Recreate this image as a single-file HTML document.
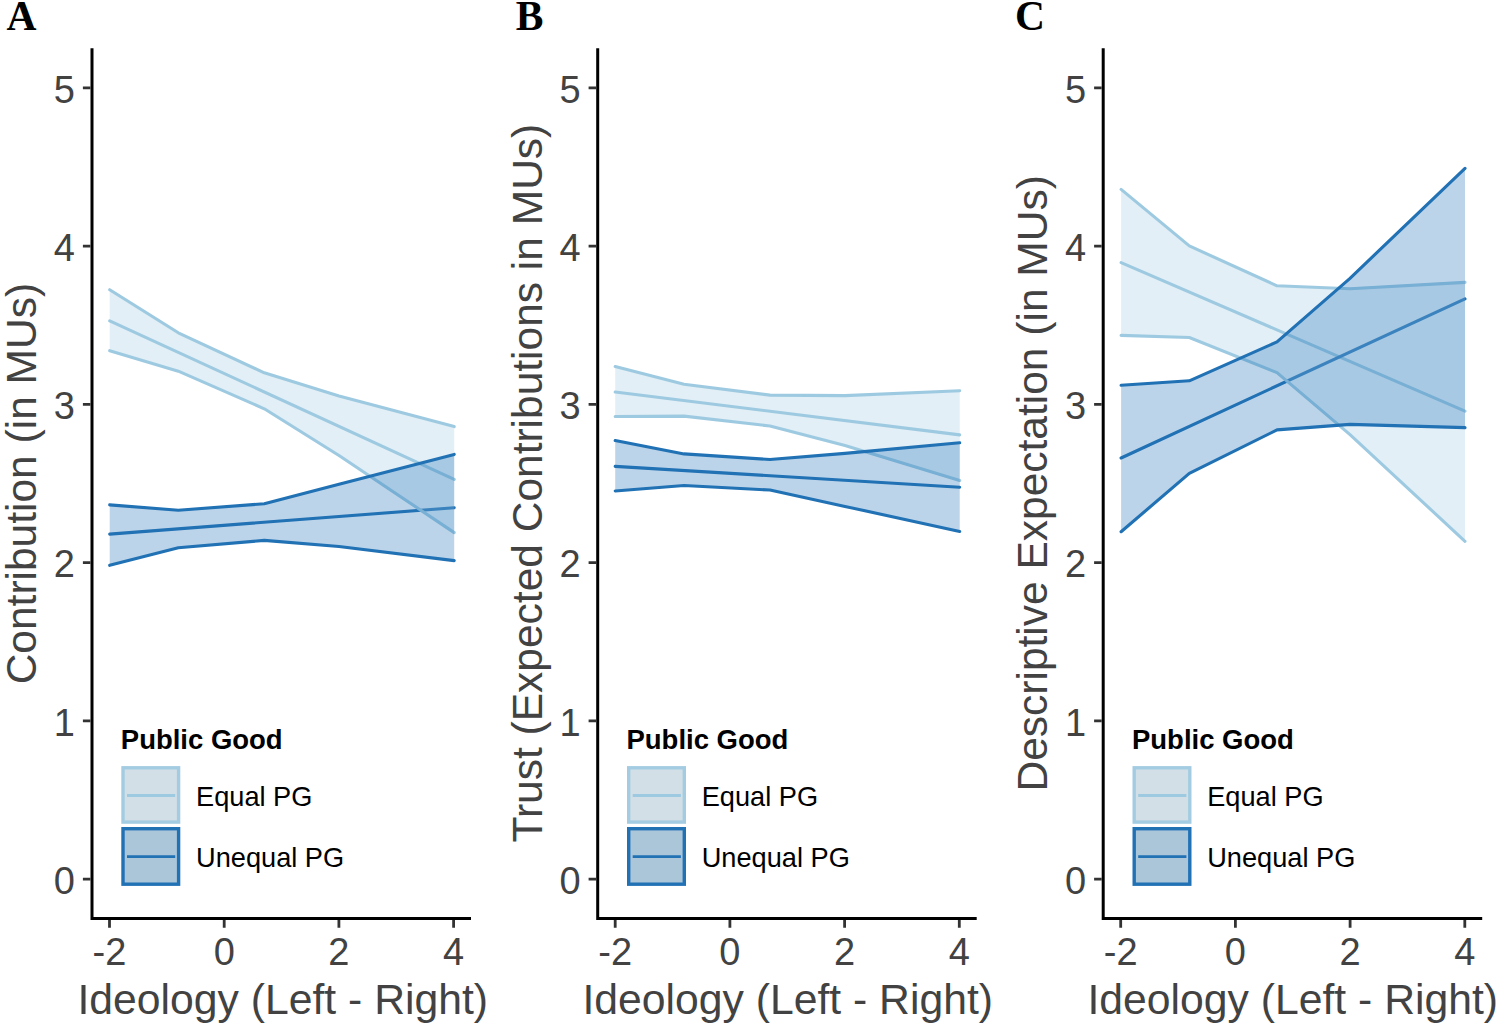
<!DOCTYPE html>
<html><head><meta charset="utf-8"><title>Figure</title>
<style>
html,body{margin:0;padding:0;background:#fff;}
body{width:1499px;height:1026px;overflow:hidden;}
svg{display:block;}
text{font-family:"Liberation Sans",sans-serif;}
.tk{font-size:38px;fill:#424242;}
.ti{font-size:42.5px;fill:#424242;}
.tix{font-size:42.7px;fill:#424242;}
.lg{font-size:27.2px;fill:#000;}
.lgb{font-size:27.5px;fill:#000;font-weight:bold;}
.pl{font-family:"Liberation Serif",serif;font-weight:bold;font-size:41.5px;fill:#000;}
</style></head><body>
<svg width="1499" height="1026" viewBox="0 0 1499 1026">
<rect width="1499" height="1026" fill="#fff"/>
<g>
<polyline points="109.7,320.9 454.2,479.3" fill="none" stroke="#9ecae1" stroke-width="3.1" stroke-linejoin="round" stroke-linecap="round"/>
<polyline points="109.7,534.1 454.2,507.7" fill="none" stroke="#2171b5" stroke-width="3.1" stroke-linejoin="round" stroke-linecap="round"/>
<polygon points="109.7,289.7 178.3,332.8 264.3,372.8 339,395.9 454.2,426.6 454.2,532.6 339,455.5 264.3,408.8 178.3,371.2 109.7,350.7" fill="rgba(158,202,225,0.3)" stroke="none"/>
<polyline points="109.7,289.7 178.3,332.8 264.3,372.8 339,395.9 454.2,426.6" fill="none" stroke="#9ecae1" stroke-width="3.1" stroke-linejoin="round" stroke-linecap="round"/>
<polyline points="109.7,350.7 178.3,371.2 264.3,408.8 339,455.5 454.2,532.6" fill="none" stroke="#9ecae1" stroke-width="3.1" stroke-linejoin="round" stroke-linecap="round"/>
<polygon points="109.7,504.9 178.3,510.2 264.3,503.8 339,484.3 454.2,454.4 454.2,560.6 339,546.5 264.3,540.4 178.3,547.7 109.7,565.3" fill="rgba(33,113,181,0.3)" stroke="none"/>
<polyline points="109.7,504.9 178.3,510.2 264.3,503.8 339,484.3 454.2,454.4" fill="none" stroke="#2171b5" stroke-width="3.1" stroke-linejoin="round" stroke-linecap="round"/>
<polyline points="109.7,565.3 178.3,547.7 264.3,540.4 339,546.5 454.2,560.6" fill="none" stroke="#2171b5" stroke-width="3.1" stroke-linejoin="round" stroke-linecap="round"/>
<path d="M92 48.3V918.6H471" fill="none" stroke="#000" stroke-width="3" stroke-linejoin="miter" stroke-linecap="butt"/>
<path d="M82.9 879.2H90.5M82.9 720.92H90.5M82.9 562.64H90.5M82.9 404.36H90.5M82.9 246.08H90.5M82.9 87.8H90.5M109.5 920.1V927.7M224.2 920.1V927.7M338.9 920.1V927.7M453.6 920.1V927.7" stroke="#333" stroke-width="2.8" fill="none"/>
<text class="tk" text-anchor="end" transform="translate(75 894) scale(1 1.04)">0</text>
<text class="tk" text-anchor="end" transform="translate(75 735.72) scale(1 1.04)">1</text>
<text class="tk" text-anchor="end" transform="translate(75 577.44) scale(1 1.04)">2</text>
<text class="tk" text-anchor="end" transform="translate(75 419.16) scale(1 1.04)">3</text>
<text class="tk" text-anchor="end" transform="translate(75 260.88) scale(1 1.04)">4</text>
<text class="tk" text-anchor="end" transform="translate(75 102.6) scale(1 1.04)">5</text>
<text class="tk" text-anchor="middle" transform="translate(109.5 964.6) scale(1 1.04)">-2</text>
<text class="tk" text-anchor="middle" transform="translate(224.2 964.6) scale(1 1.04)">0</text>
<text class="tk" text-anchor="middle" transform="translate(338.9 964.6) scale(1 1.04)">2</text>
<text class="tk" text-anchor="middle" transform="translate(453.6 964.6) scale(1 1.04)">4</text>
<text class="tix" text-anchor="middle" transform="translate(282.75 1014) scale(1 1.01)">Ideology (Left - Right)</text>
<text class="ti" text-anchor="middle" transform="translate(36.2 483.65) rotate(-90) scale(1 1.01)">Contribution (in MUs)</text>
<text class="lgb" transform="translate(120.8 749.3) scale(1 1.01)">Public Good</text>
<rect x="123" y="767.8" width="55.6" height="54.3" fill="#d3dfe6" stroke="#a3cce2" stroke-width="3.4"/>
<path d="M127 795.5H175.2" stroke="#9ecae1" stroke-width="2.8"/>
<rect x="123" y="828.7" width="55.6" height="55.5" fill="#abc5d9" stroke="#2171b5" stroke-width="3.4"/>
<path d="M127 856.6H175.2" stroke="#2171b5" stroke-width="2.8"/>
<text class="lg" transform="translate(196 806.1) scale(1 1.01)">Equal PG</text>
<text class="lg" transform="translate(196 866.7) scale(1 1.01)">Unequal PG</text>
<text class="pl" text-anchor="middle" transform="translate(21.45 29.5) scale(1 1)">A</text>
</g>
<g>
<polyline points="615.2,392 959.7,434.9" fill="none" stroke="#9ecae1" stroke-width="3.1" stroke-linejoin="round" stroke-linecap="round"/>
<polyline points="615.2,466.4 959.7,487.2" fill="none" stroke="#2171b5" stroke-width="3.1" stroke-linejoin="round" stroke-linecap="round"/>
<polygon points="615.2,366.6 684,384.2 770,395.1 845,395.6 959.7,390.7 959.7,480.6 845,445.5 770,426 684,416.1 615.2,416.5" fill="rgba(158,202,225,0.3)" stroke="none"/>
<polyline points="615.2,366.6 684,384.2 770,395.1 845,395.6 959.7,390.7" fill="none" stroke="#9ecae1" stroke-width="3.1" stroke-linejoin="round" stroke-linecap="round"/>
<polyline points="615.2,416.5 684,416.1 770,426 845,445.5 959.7,480.6" fill="none" stroke="#9ecae1" stroke-width="3.1" stroke-linejoin="round" stroke-linecap="round"/>
<polygon points="615.2,440.5 684,453.9 770,459.5 845,453.4 959.7,442.8 959.7,531.4 845,506.4 770,490 684,485.5 615.2,491" fill="rgba(33,113,181,0.3)" stroke="none"/>
<polyline points="615.2,440.5 684,453.9 770,459.5 845,453.4 959.7,442.8" fill="none" stroke="#2171b5" stroke-width="3.1" stroke-linejoin="round" stroke-linecap="round"/>
<polyline points="615.2,491 684,485.5 770,490 845,506.4 959.7,531.4" fill="none" stroke="#2171b5" stroke-width="3.1" stroke-linejoin="round" stroke-linecap="round"/>
<path d="M597.7 48.3V918.6H976.7" fill="none" stroke="#000" stroke-width="3" stroke-linejoin="miter" stroke-linecap="butt"/>
<path d="M588.6 879.2H596.2M588.6 720.92H596.2M588.6 562.64H596.2M588.6 404.36H596.2M588.6 246.08H596.2M588.6 87.8H596.2M615.2 920.1V927.7M729.9 920.1V927.7M844.6 920.1V927.7M959.3 920.1V927.7" stroke="#333" stroke-width="2.8" fill="none"/>
<text class="tk" text-anchor="end" transform="translate(580.7 894) scale(1 1.04)">0</text>
<text class="tk" text-anchor="end" transform="translate(580.7 735.72) scale(1 1.04)">1</text>
<text class="tk" text-anchor="end" transform="translate(580.7 577.44) scale(1 1.04)">2</text>
<text class="tk" text-anchor="end" transform="translate(580.7 419.16) scale(1 1.04)">3</text>
<text class="tk" text-anchor="end" transform="translate(580.7 260.88) scale(1 1.04)">4</text>
<text class="tk" text-anchor="end" transform="translate(580.7 102.6) scale(1 1.04)">5</text>
<text class="tk" text-anchor="middle" transform="translate(615.2 964.6) scale(1 1.04)">-2</text>
<text class="tk" text-anchor="middle" transform="translate(729.9 964.6) scale(1 1.04)">0</text>
<text class="tk" text-anchor="middle" transform="translate(844.6 964.6) scale(1 1.04)">2</text>
<text class="tk" text-anchor="middle" transform="translate(959.3 964.6) scale(1 1.04)">4</text>
<text class="tix" text-anchor="middle" transform="translate(787.7 1014) scale(1 1.01)">Ideology (Left - Right)</text>
<text class="ti" text-anchor="middle" transform="translate(541.9 483.1) rotate(-90) scale(1 1.01)">Trust (Expected Contributions in MUs)</text>
<text class="lgb" transform="translate(626.5 749.3) scale(1 1.01)">Public Good</text>
<rect x="628.7" y="767.8" width="55.6" height="54.3" fill="#d3dfe6" stroke="#a3cce2" stroke-width="3.4"/>
<path d="M632.7 795.5H680.9" stroke="#9ecae1" stroke-width="2.8"/>
<rect x="628.7" y="828.7" width="55.6" height="55.5" fill="#abc5d9" stroke="#2171b5" stroke-width="3.4"/>
<path d="M632.7 856.6H680.9" stroke="#2171b5" stroke-width="2.8"/>
<text class="lg" transform="translate(701.7 806.1) scale(1 1.01)">Equal PG</text>
<text class="lg" transform="translate(701.7 866.7) scale(1 1.01)">Unequal PG</text>
<text class="pl" text-anchor="middle" transform="translate(529.5 29.5) scale(1 1)">B</text>
</g>
<g>
<polyline points="1121.1,262.6 1465,411.1" fill="none" stroke="#9ecae1" stroke-width="3.1" stroke-linejoin="round" stroke-linecap="round"/>
<polyline points="1121.1,458 1465,298.8" fill="none" stroke="#2171b5" stroke-width="3.1" stroke-linejoin="round" stroke-linecap="round"/>
<polygon points="1121.1,189.4 1189.3,245.9 1277,285.8 1350,288.7 1465,282.4 1465,541.3 1350,434.6 1277,372.6 1189.3,337.5 1121.1,335.4" fill="rgba(158,202,225,0.3)" stroke="none"/>
<polyline points="1121.1,189.4 1189.3,245.9 1277,285.8 1350,288.7 1465,282.4" fill="none" stroke="#9ecae1" stroke-width="3.1" stroke-linejoin="round" stroke-linecap="round"/>
<polyline points="1121.1,335.4 1189.3,337.5 1277,372.6 1350,434.6 1465,541.3" fill="none" stroke="#9ecae1" stroke-width="3.1" stroke-linejoin="round" stroke-linecap="round"/>
<polygon points="1121.1,385.3 1189.3,380.8 1277,341.9 1350,278.3 1465,168.4 1465,427.6 1350,424.4 1277,429.9 1189.3,473.4 1121.1,531.7" fill="rgba(33,113,181,0.3)" stroke="none"/>
<polyline points="1121.1,385.3 1189.3,380.8 1277,341.9 1350,278.3 1465,168.4" fill="none" stroke="#2171b5" stroke-width="3.1" stroke-linejoin="round" stroke-linecap="round"/>
<polyline points="1121.1,531.7 1189.3,473.4 1277,429.9 1350,424.4 1465,427.6" fill="none" stroke="#2171b5" stroke-width="3.1" stroke-linejoin="round" stroke-linecap="round"/>
<path d="M1103.2 48.3V918.6H1482.2" fill="none" stroke="#000" stroke-width="3" stroke-linejoin="miter" stroke-linecap="butt"/>
<path d="M1094.1 879.2H1101.7M1094.1 720.92H1101.7M1094.1 562.64H1101.7M1094.1 404.36H1101.7M1094.1 246.08H1101.7M1094.1 87.8H1101.7M1120.7 920.1V927.7M1235.4 920.1V927.7M1350.1 920.1V927.7M1464.8 920.1V927.7" stroke="#333" stroke-width="2.8" fill="none"/>
<text class="tk" text-anchor="end" transform="translate(1086.2 894) scale(1 1.04)">0</text>
<text class="tk" text-anchor="end" transform="translate(1086.2 735.72) scale(1 1.04)">1</text>
<text class="tk" text-anchor="end" transform="translate(1086.2 577.44) scale(1 1.04)">2</text>
<text class="tk" text-anchor="end" transform="translate(1086.2 419.16) scale(1 1.04)">3</text>
<text class="tk" text-anchor="end" transform="translate(1086.2 260.88) scale(1 1.04)">4</text>
<text class="tk" text-anchor="end" transform="translate(1086.2 102.6) scale(1 1.04)">5</text>
<text class="tk" text-anchor="middle" transform="translate(1120.7 964.6) scale(1 1.04)">-2</text>
<text class="tk" text-anchor="middle" transform="translate(1235.4 964.6) scale(1 1.04)">0</text>
<text class="tk" text-anchor="middle" transform="translate(1350.1 964.6) scale(1 1.04)">2</text>
<text class="tk" text-anchor="middle" transform="translate(1464.8 964.6) scale(1 1.04)">4</text>
<text class="tix" text-anchor="middle" transform="translate(1292.75 1014) scale(1 1.01)">Ideology (Left - Right)</text>
<text class="ti" text-anchor="middle" transform="translate(1047.4 483.35) rotate(-90) scale(1 1.01)">Descriptive Expectation (in MUs)</text>
<text class="lgb" transform="translate(1132 749.3) scale(1 1.01)">Public Good</text>
<rect x="1134.2" y="767.8" width="55.6" height="54.3" fill="#d3dfe6" stroke="#a3cce2" stroke-width="3.4"/>
<path d="M1138.2 795.5H1186.4" stroke="#9ecae1" stroke-width="2.8"/>
<rect x="1134.2" y="828.7" width="55.6" height="55.5" fill="#abc5d9" stroke="#2171b5" stroke-width="3.4"/>
<path d="M1138.2 856.6H1186.4" stroke="#2171b5" stroke-width="2.8"/>
<text class="lg" transform="translate(1207.2 806.1) scale(1 1.01)">Equal PG</text>
<text class="lg" transform="translate(1207.2 866.7) scale(1 1.01)">Unequal PG</text>
<text class="pl" text-anchor="middle" transform="translate(1030 29.5) scale(1 1)">C</text>
</g>
</svg>
</body></html>
